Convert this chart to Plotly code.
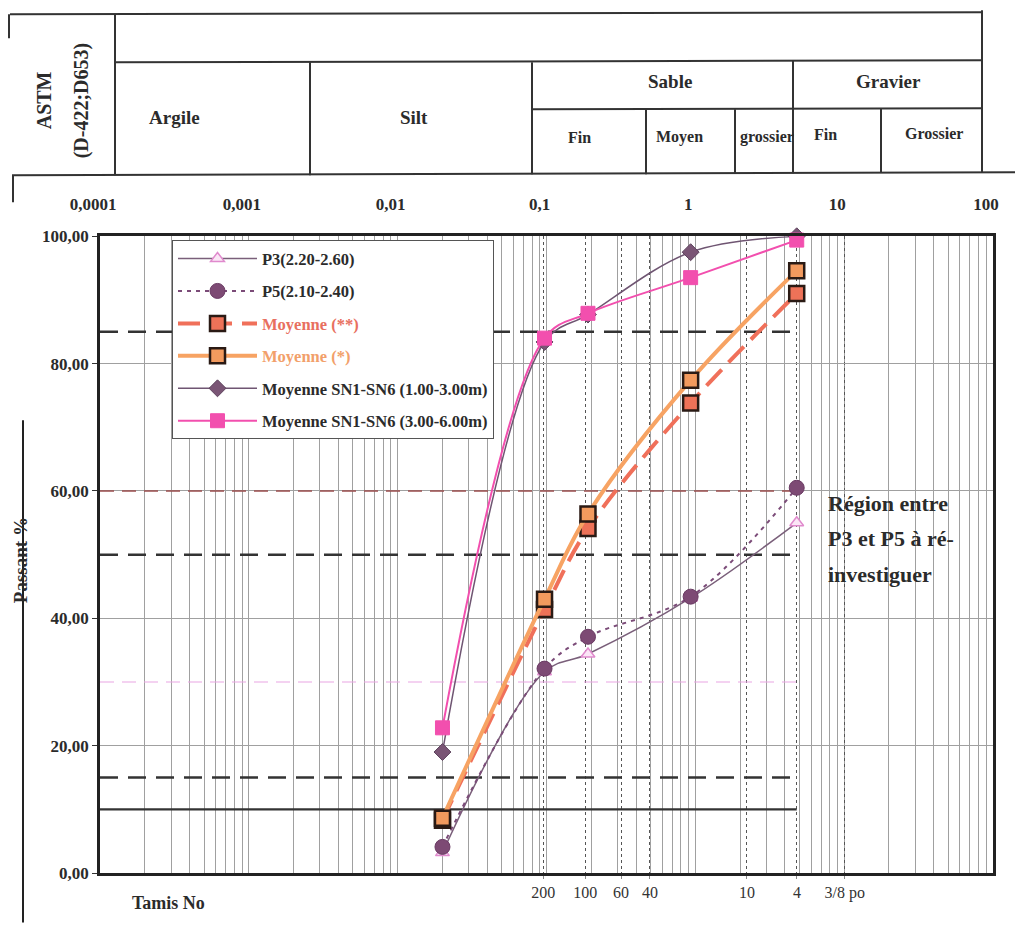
import plotly.graph_objects as go

# ---------------- data ----------------
diam_mm = [0.02, 0.097, 0.19, 0.93, 4.8]          # particle diameter (mm)
p3 = [3.2, 31.6, 34.4, 43.2, 55.0]
p5 = [4.1, 32.1, 37.1, 43.4, 60.5]
moy_2 = [8.3, 41.4, 54.1, 73.8, 91.0]             # Moyenne (**)
moy_1 = [8.6, 43.0, 56.4, 77.4, 94.6]             # Moyenne (*)
sn_1_3 = [19.0, 83.4, 87.7, 97.5, 100.0]
sn_3_6 = [22.8, 84.0, 87.9, 93.5, 99.4]

series_names = ["P3(2.20-2.60)", "P5(2.10-2.40)", "Moyenne (**)", "Moyenne (*)",
                "Moyenne SN1-SN6 (1.00-3.00m)", "Moyenne SN1-SN6 (3.00-6.00m)"]

ref_levels = [85, 60, 50, 30, 15, 10]
ref_x_span = [1e-4, 4.8]

sieve_pos = [0.095, 0.182, 0.317, 0.495, 2.22, 4.82, 10.1]
sieve_labels = ["200", "100", "60", "40", "10", "4", "3/8 po"]

decade_vals = [1e-4, 1e-3, 1e-2, 1e-1, 1, 10, 100]
decade_labels = ["0,0001", "0,001", "0,01", "0,1", "1", "10", "100"]

y_ticks = [0, 20, 40, 60, 80, 100]
y_tick_labels = ["0,00", "20,00", "40,00", "60,00", "80,00", "100,00"]

header_top = ["Sable", "Gravier"]
header_main = ["Argile", "Silt"]
header_sub = ["Fin", "Moyen", "grossier", "Fin", "Grossier"]
region_text = ["Région entre", "P3 et P5 à ré-", "investiguer"]

# ---------------- geometry helpers (screen pixels -> paper) ----------------
OFF = 8                     # page body margin
YK = 0.99                   # empirical vertical correction
W, H = 1007, 915
PL, PR, PB = 100, 993, 873  # plot area edges in screen pixels
PT = 236
ML, MR = PL - OFF, W - (PR - OFF)
MB = H - (PB - OFF)
MT = 0
PW, PH = W - ML - MR, H - MT - MB
SERIF = "Liberation Serif"
INK = "#2b2b2b"


def px(x):
    return (x - OFF - ML) / PW


def py(y):
    yc = PB - (PB - y) / YK
    return (H - MB - (yc - OFF)) / PH


minor_vals = [m * 10 ** k for k in range(-4, 2) for m in range(1, 10)] + [100]

fig = go.Figure()

# reference horizontal levels
ref_styles = [
    dict(color="#333333", width=2.5, dash="18px,10px"),
    dict(color="#9b4d4d", width=1.5, dash="14px,8px"),
    dict(color="#333333", width=2.5, dash="18px,10px"),
    dict(color="#e9a6e3", width=1.2, dash="14px,8px"),
    dict(color="#333333", width=2.5, dash="18px,10px"),
    dict(color="#333333", width=2.2, dash="solid"),
]
for lvl, st in zip(ref_levels, ref_styles):
    fig.add_trace(go.Scatter(x=ref_x_span, y=[lvl, lvl], mode="lines", line=st,
                             showlegend=False, hoverinfo="skip"))

# dummy trace for the top decade axis
fig.add_trace(go.Scatter(x=decade_vals, y=[None] * len(decade_vals), xaxis="x2", yaxis="y",
                         mode="markers", showlegend=False, hoverinfo="skip"))

BORDER = "#2a1a14"
series = [
    (p3, dict(color="#7a5f7a", width=1.5),
     dict(symbol="triangle-up", size=12, color="#fbe6f6", line=dict(color="#e08acd", width=1.5)), None),
    (p5, dict(color="#7b4b78", width=2, dash="4px,5px"),
     dict(symbol="circle", size=15, color="#7d4a74", line=dict(color="#6a3a63", width=1)), None),
    (moy_2, dict(color="#f0705a", width=4, dash="22px,10px"),
     dict(symbol="square", size=15, color="#ee7258", line=dict(color=BORDER, width=2.5)), "#e8705f"),
    (moy_1, dict(color="#f7a363", width=4),
     dict(symbol="square", size=15, color="#f29a5e", line=dict(color=BORDER, width=2.5)), "#f2a06a"),
    (sn_1_3, dict(color="#6f5572", width=1.5),
     dict(symbol="diamond", size=13, color="#7a5575", line=dict(color="#5e445e", width=1)), None),
    (sn_3_6, dict(color="#f24fae", width=2),
     dict(symbol="square", size=14, color="#f24fae", line=dict(color="#f24fae", width=1)), None),
]
for name, (vals, ln, mk, tcol) in zip(series_names, series):
    label = f"<span style='color:{tcol}'>{name}</span>" if tcol else name
    fig.add_trace(go.Scatter(x=diam_mm, y=vals, name=label, mode="lines+markers",
                             line=dict(shape="spline", smoothing=1.0, **ln), marker=mk,
                             legendgroup=name, cliponaxis=False))

# ---------------- header table ----------------
LC = "#333333"
table_lines = [
    (10, 14, 982, 12), (115, 62, 982, 60), (12, 175, 1023, 172), (532, 109, 982, 108),
    (115, 14, 115, 175), (310, 62, 310, 175), (532, 62, 532, 174), (646, 109, 646, 174),
    (735, 109, 735, 173), (793, 60, 793, 173), (881, 108, 881, 172), (982, 10, 982, 172),
    (9, 14, 9, 38), (13, 175, 13, 202),
]
shapes = []
for x0, y0, x1, y1 in table_lines:
    shapes.append(dict(type="line", xref="paper", yref="paper", x0=px(x0), y0=py(y0),
                       x1=px(x1), y1=py(y1), line=dict(color=LC, width=2)))
# scan stroke through the y title
shapes.append(dict(type="line", xref="paper", yref="paper", x0=px(23), x1=px(23),
                   y0=py(420), y1=0 - MB / PH, line=dict(color="#222", width=2)))

ann = []


def txt(t, x, y, size, bold=True, angle=0, xanchor="center", color=INK):
    ann.append(dict(text=t, x=px(x), y=py(y), xref="paper", yref="paper", showarrow=False,
                    xanchor=xanchor, yanchor="middle", textangle=angle,
                    font=dict(family=SERIF, size=size, color=color,
                              weight="bold" if bold else "normal")))


txt("ASTM", 44, 100, 20, angle=-90)
txt("(D-422;D653)", 81, 100, 20, angle=-90)
for t, x in zip(header_main, [174, 414]):
    txt(t, x, 117, 19)
for t, x in zip(header_top, [670, 888]):
    txt(t, x, 81, 19)
for t, x, y in zip(header_sub, [579, 679, 767, 825, 934], [137, 137, 137, 134, 133]):
    txt(t, x, y, 16)
txt("Passant %", 20, 560, 19, angle=-90)
txt("Tamis No", 168, 903, 18)
for i, t in enumerate(region_text):
    txt(t, 826, 503 + i * 35.5, 22, xanchor="left")

axfont = dict(family=SERIF, size=17, color=INK, weight="bold")
fig.update_layout(
    width=W, height=H, margin=dict(l=ML, r=MR, t=MT, b=MB, pad=0),
    paper_bgcolor="white", plot_bgcolor="white",
    xaxis=dict(type="log", range=[-4, 2], tickmode="array", tickvals=sieve_pos,
               ticktext=sieve_labels, ticks="outside", ticklen=3, tickcolor="#888",
               tickwidth=1, showgrid=True, gridcolor="#555", griddash="dot", gridwidth=1.3,
               minor=dict(tickmode="array", tickvals=minor_vals, showgrid=True,
                          gridcolor="#a0a0a0", gridwidth=1, griddash="solid", ticks=""),
               showline=True, linecolor="#222", linewidth=2.5, mirror=True,
               tickfont=dict(family=SERIF, size=16, color="#333"), zeroline=False),
    xaxis2=dict(type="log", range=[-4, 2], overlaying="x", side="top", anchor="y",
                tickmode="array", tickvals=decade_vals, ticktext=decade_labels,
                ticks="", showgrid=False, showline=False, tickfont=axfont,
                ticklabelstandoff=22, ticklabelshift=-7),
    yaxis=dict(range=[0, 100], domain=[0, py(PT)], tickmode="array", tickvals=y_ticks,
               ticktext=y_tick_labels, ticks="outside", ticklen=5, tickcolor="#333",
               showgrid=True, gridcolor="#a0a0a0", gridwidth=1, showline=True,
               linecolor="#222", linewidth=2.5, mirror=True, tickfont=axfont, zeroline=False),
    legend=dict(x=px(172), y=py(240), xanchor="left", yanchor="top", bgcolor="white",
                bordercolor="#555", borderwidth=1, tracegroupgap=8, itemwidth=79,
                font=dict(family=SERIF, size=16.5, color=INK, weight="bold")),
    shapes=shapes, annotations=ann, showlegend=True,
)

fig.write_html("out.html")
